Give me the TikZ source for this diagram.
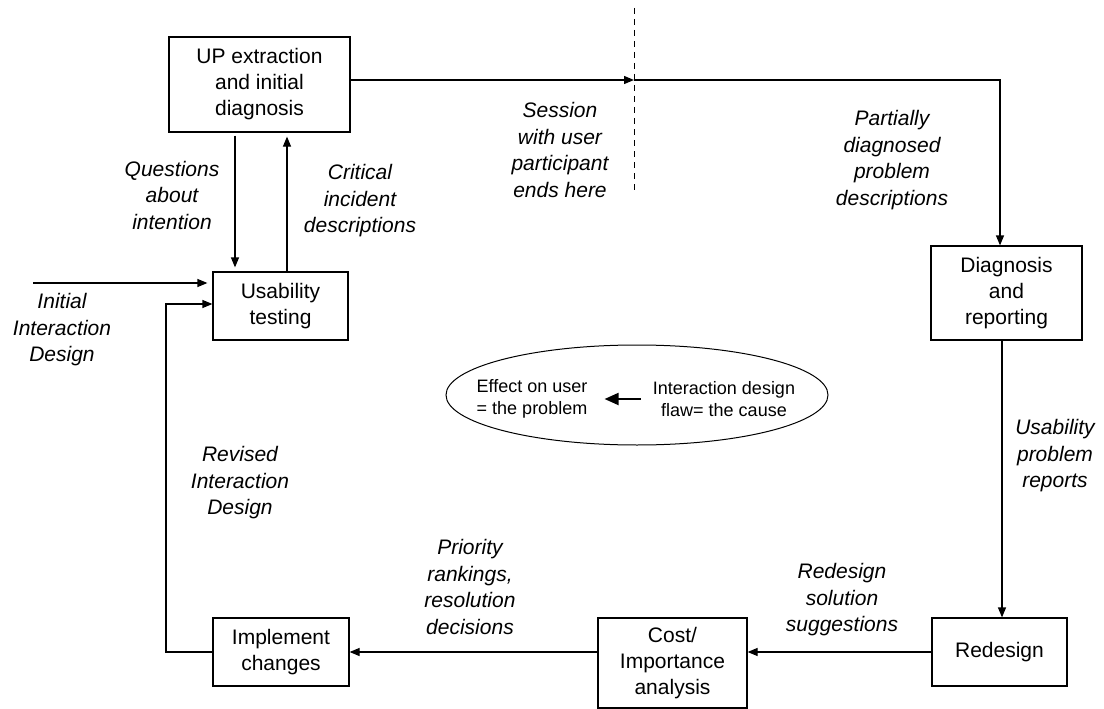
\documentclass[tikz,border=0pt]{standalone}
\usepackage{fontspec}
\setmainfont{Liberation Sans}
\usetikzlibrary{arrows.meta,shapes.geometric}
\newcommand{\bxfont}{\fontsize{21}{26}\selectfont}
\newcommand{\lbfont}{\fontsize{21}{26.5}\selectfont\itshape}
\newcommand{\elfont}{\fontsize{18}{22}\selectfont}
\tikzset{
  box/.style={draw, line width=1.2pt, align=center, inner sep=0pt, font=\bxfont},
  lab/.style={align=center, inner sep=0pt, font=\lbfont},
  conn/.style={line width=1.2pt},
  arr/.style={conn, -{Triangle[length=10pt,width=8pt]}},
  bigarr/.style={line width=2pt, -{Triangle[length=14pt,width=12pt]}},
}
\begin{document}
\begin{tikzpicture}[x=1pt,y=-1pt]
\useasboundingbox (0,0) rectangle (1104,709);

% boxes
\node[box, minimum width=181pt, minimum height=95pt] (up) at (259.5,84.5) {UP extraction\\and initial\\diagnosis};
\node[box, minimum width=135pt, minimum height=68pt] (us) at (280.5,306) {Usability\\testing};
\node[box, minimum width=151pt, minimum height=94pt] (dg) at (1006.5,293) {Diagnosis\\and\\reporting};
\node[box, minimum width=135pt, minimum height=68pt] (rd) at (999.5,652) {Redesign};
\node[box, minimum width=149pt, minimum height=90pt] (cs) at (672.5,663) {Cost/\\Importance\\analysis};
\node[box, minimum width=136pt, minimum height=68pt] (im) at (281,652) {Implement\\changes};

% ellipse
\node[draw, ellipse, line width=1pt, minimum width=382pt, minimum height=100pt, inner sep=0pt] (el) at (637,395) {};
\node[align=center, inner sep=0pt, font=\elfont] (lt) at (532,399) {Effect on user\\= the problem};
\node[align=center, inner sep=0pt, font=\elfont] (rt) at (724,399) {Interaction design\\flaw= the cause};
\draw[bigarr] ([xshift=-12pt]rt.west) -- ([xshift=17pt]lt.east);

% helper coordinates
\coordinate (qx) at (235,0);
\coordinate (cx) at (287,0);
\coordinate (init) at (33,283);
\coordinate (rv) at (166,304);
\coordinate (tr) at (1000,80);
\coordinate (mid) at (634,80);
\coordinate (dx) at (1002,0);
\coordinate (dtop) at (634,8);
\coordinate (dbot) at (634,191);

% connectors
\draw[arr, shorten <=3pt, shorten >=4pt] (up.south -| qx) -- (us.north -| qx);
\draw[arr, shorten >=4pt] (us.north -| cx) -- (up.south -| cx);
\draw[arr, shorten >=5pt] (init) -- (init -| us.west);
\draw[arr] (im.west) -| (rv) -- (rv -| us.west);
\draw[arr] (up.east |- tr) -- (mid);
\draw[arr] (mid) -- (tr) -- (tr |- dg.north);
\draw[arr] (dg.south -| dx) -- (rd.north -| dx);
\draw[arr] (rd.west) -- (rd.west -| cs.east);
\draw[arr] (cs.west |- rd.west) -- (im.east);
\draw[line width=1pt, dash pattern=on 6pt off 5pt] (dtop) -- (dbot);

% labels
\node[lab] (l1) at (172,195) {Questions\\about\\intention};
\node[lab] (l2) at (360,201) {Critical\\incident\\descriptions};
\node[lab] (l3) at (62,330) {Initial\\Interaction\\Design};
\node[lab] (l4) at (560,150) {Session\\with user\\participant\\ends here};
\node[lab] (l5) at (892,160) {Partially\\diagnosed\\problem\\descriptions};
\node[lab] (l6) at (1055,456) {Usability\\problem\\reports};
\node[lab] (l7) at (842,600) {Redesign\\solution\\suggestions};
\node[lab] (l8) at (470,587) {Priority\\rankings,\\resolution\\decisions};
\node[lab] (l9) at (240,483) {Revised\\Interaction\\Design};
\end{tikzpicture}
\end{document}
